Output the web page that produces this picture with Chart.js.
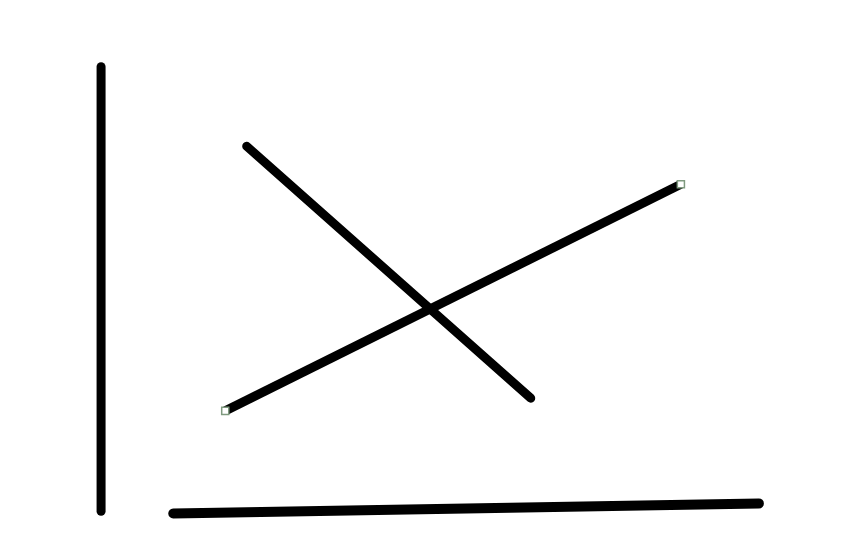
<!DOCTYPE html>
<html>
<head>
<meta charset="utf-8">
<script src="https://cdn.jsdelivr.net/npm/chart.js@4/dist/chart.umd.min.js"></script>
<style>
  html, body { margin: 0; padding: 0; background: #fff; }
  #wrap { width: 859px; height: 558px; }
</style>
</head>
<body>
<div id="wrap"><canvas id="chart"></canvas></div>
<script>
// Sketch in abstract units: vertical axis at x = 0, bottom axis near y = 0
const vAxisX = [-0.06, -0.06];
const vAxisY = [-0.04, 10.14];
const hAxisX = [1.05, 10.06];
const hAxisY = [-0.09, 0.14];

// falling line (no markers)
const lineAX = [2.18, 6.55];
const lineAY = [8.32, 2.55];

// rising line (square markers at both ends)
const lineBX = [1.85, 8.86];
const lineBY = [2.26, 7.45];

// visible range of the sketch
const xRange = [-1.515, 11.5];
const yRange = [-0.96, 11.52];

function pts(xs, ys) {
    return xs.map((x, i) => ({ x: x, y: ys[i] }));
}

document.addEventListener('DOMContentLoaded', () => {
    const ctx = document.getElementById('chart').getContext('2d');

    const stroke = (data, width) => ({
        data: data,
        borderColor: '#000',
        borderWidth: width,
        borderCapStyle: 'round',
        pointRadius: 0,
        fill: false,
        tension: 0
    });

    const config = {
        type: 'line',
        data: {
            datasets: [
                stroke(pts(vAxisX, vAxisY), 9),
                stroke(pts(hAxisX, hAxisY), 10),
                stroke(pts(lineAX, lineAY), 9),
                {
                    data: pts(lineBX, lineBY),
                    borderColor: '#000',
                    borderWidth: 9,
                    borderCapStyle: 'butt',
                    pointStyle: 'rect',
                    pointRadius: 5,
                    pointBackgroundColor: '#fff',
                    pointBorderColor: '#7f9a7f',
                    pointBorderWidth: 1.5,
                    fill: false,
                    tension: 0
                }
            ]
        },
        options: {
            responsive: true,
            maintainAspectRatio: false,
            animation: false,
            layout: { padding: 0 },
            scales: {
                x: { type: 'linear', min: xRange[0], max: xRange[1], display: false },
                y: { type: 'linear', min: yRange[0], max: yRange[1], display: false }
            },
            plugins: {
                legend: { display: false },
                tooltip: { enabled: false }
            }
        }
    };

    new Chart(ctx, config);
});
</script>
</body>
</html>
